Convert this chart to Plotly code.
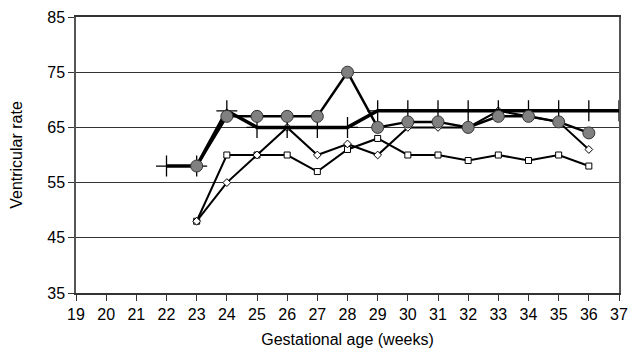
import plotly.graph_objects as go

weeks_cross = [22, 23, 24, 25, 26, 27, 28, 29, 30, 31, 32, 33, 34, 35, 36, 37]
cross_vals = [58, 58, 68, 65, 65, 65, 65, 68, 68, 68, 68, 68, 68, 68, 68, 68]

weeks_circle = [23, 24, 25, 26, 27, 28, 29, 30, 31, 32, 33, 34, 35, 36]
circle_vals = [58, 67, 67, 67, 67, 75, 65, 66, 66, 65, 67, 67, 66, 64]

weeks_diamond = [23, 24, 25, 26, 27, 28, 29, 30, 31, 32, 33, 34, 35, 36]
diamond_vals = [48, 55, 60, 65, 60, 62, 60, 65, 65, 65, 68, 67, 66, 61]

weeks_square = [23, 24, 25, 26, 27, 28, 29, 30, 31, 32, 33, 34, 35, 36]
square_vals = [48, 60, 60, 60, 57, 61, 63, 60, 60, 59, 60, 59, 60, 58]

x_ticks = list(range(19, 38))
y_ticks = [35, 45, 55, 65, 75, 85]

fig = go.Figure()
fig.add_trace(go.Scatter(
    x=weeks_square, y=square_vals, mode="lines+markers",
    line=dict(color="black", width=2),
    marker=dict(symbol="square", size=6, color="white", line=dict(color="black", width=1)),
))
fig.add_trace(go.Scatter(
    x=weeks_diamond, y=diamond_vals, mode="lines+markers",
    line=dict(color="black", width=2),
    marker=dict(symbol="diamond", size=6, color="white", line=dict(color="black", width=1)),
))
fig.add_trace(go.Scatter(
    x=weeks_cross, y=cross_vals, mode="lines+markers",
    line=dict(color="black", width=3.5),
    marker=dict(symbol="cross-thin", size=15, color="black", line=dict(color="black", width=1.3)),
))
fig.add_trace(go.Scatter(
    x=weeks_circle, y=circle_vals, mode="lines+markers",
    line=dict(color="black", width=2.5),
    marker=dict(symbol="circle", size=12, color="#808080", line=dict(color="#333333", width=1)),
))

font = dict(family="Liberation Sans, Arial, sans-serif", size=16, color="black")
fig.update_layout(
    width=629, height=356,
    margin=dict(l=76, r=10, t=17, b=63, autoexpand=False),
    paper_bgcolor="white", plot_bgcolor="white",
    showlegend=False,
    font=font,
)
fig.update_xaxes(
    range=[19, 37], tickvals=x_ticks, ticktext=[str(v) for v in x_ticks],
    showgrid=False, zeroline=False,
    showline=True, linecolor="#333333", linewidth=1.5, mirror=True,
    ticks="outside", ticklen=6, tickcolor="#333333",
    title=dict(text="Gestational age (weeks)", standoff=12, font=font),
    tickfont=font, automargin=False,
)
fig.update_yaxes(
    range=[35, 85], tickvals=y_ticks, ticktext=[str(v) for v in y_ticks],
    showgrid=True, gridcolor="#333333", gridwidth=1, zeroline=False,
    showline=True, linecolor="#555555", linewidth=1.5, mirror=True,
    ticks="outside", ticklen=6, tickcolor="#333333",
    title=dict(text="Ventricular rate", standoff=21, font=font),
    tickfont=font, automargin=False,
)
fig.write_html("out.html", config={"displayModeBar": False},
               post_script="document.body.style.margin='0';")
